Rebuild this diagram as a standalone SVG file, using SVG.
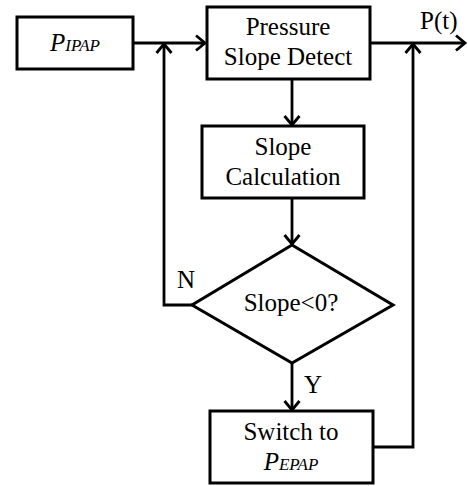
<svg xmlns="http://www.w3.org/2000/svg" width="468" height="486" viewBox="0 0 468 486">
<style>
.box{fill:#fff;stroke:#000;stroke-width:3}
.ln{fill:none;stroke:#000;stroke-width:2.8}
.t{font-family:'Liberation Serif','Times New Roman',Times,serif;font-size:25px;fill:#000}
.c{text-anchor:middle}
.i{font-style:italic}
</style>
<defs>
<marker id="a" markerUnits="userSpaceOnUse" markerWidth="24" markerHeight="24" viewBox="-12 -12 24 24" refX="0" refY="0" orient="auto" overflow="visible">
<path d="M-9,-7.5 L0,0 L-9,7.5" fill="none" stroke="#000" stroke-width="2.8"/>
</marker>
</defs>
<rect width="468" height="486" fill="#fff"/>
<g id="connectors">
<path class="ln" d="M133,43 H205" marker-end="url(#a)"/>
<path class="ln" d="M192,305 H164 V44" marker-end="url(#a)"/>
<path class="ln" d="M292,79 V125" marker-end="url(#a)"/>
<path class="ln" d="M292,198 V244" marker-end="url(#a)"/>
<path class="ln" d="M292,363 V410" marker-end="url(#a)"/>
<path class="ln" d="M373,447 H413 V44" marker-end="url(#a)"/>
<path class="ln" d="M370,43 H465" marker-end="url(#a)"/>
</g>
<g font-family="Liberation Serif, Times New Roman, serif" font-size="25">
<g id="pipap">
<rect class="box" x="17" y="17" width="116" height="52"/>
<text class="t c i" x="75" y="51">P<tspan font-size="17">IPAP</tspan></text>
</g>
<g id="pressure">
<rect class="box" x="207" y="7" width="163" height="72"/>
<text class="t c" x="288" y="35">Pressure</text>
<text class="t c" x="288" y="65">Slope Detect</text>
</g>
<g id="calc">
<rect class="box" x="202" y="126" width="162" height="72"/>
<text class="t c" x="283" y="155">Slope</text>
<text class="t c" x="283" y="185">Calculation</text>
</g>
<g id="decision">
<path class="box" d="M292,245 L393,305 L292,363 L192,305 Z"/>
<text class="t c" x="291" y="311">Slope&lt;0?</text>
</g>
<g id="switch">
<rect class="box" x="210" y="411" width="163" height="72"/>
<text class="t c" x="291" y="440">Switch to</text>
<text class="t c i" x="291" y="470">P<tspan font-size="17">EPAP</tspan></text>
</g>
<g id="labels">
<text class="t" x="420" y="29">P(t)</text>
<text class="t" x="177" y="288">N</text>
<text class="t" x="304" y="393">Y</text>
</g>
</g>
</svg>
